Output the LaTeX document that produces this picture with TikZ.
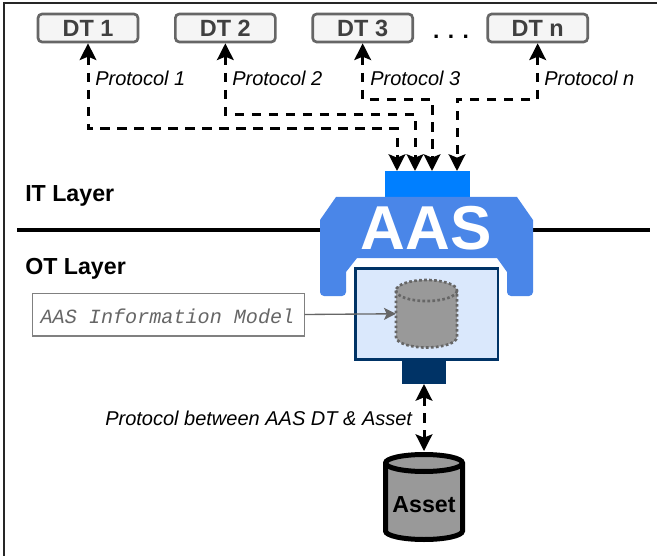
\documentclass[tikz,border=0pt]{standalone}
\usepackage{fontspec}
\setmainfont{Liberation Sans}
\setmonofont{Liberation Mono}
\usepackage{tikz}
\usetikzlibrary{positioning}
\usetikzlibrary{arrows.meta}
\definecolor{aasblue}{HTML}{4A86E8}
\definecolor{itblue}{HTML}{007FFF}
\definecolor{otnavy}{HTML}{003366}
\definecolor{modelfill}{HTML}{DAE8FC}
\tikzstyle{dtbox}=[rectangle, rounded corners=3pt, draw=black!60, fill=black!4,
  line width=2pt, minimum width=75pt, minimum height=21pt, inner sep=0pt,
  text=black!75, font=\fontsize{17.6}{17}\selectfont\bfseries]
\tikzstyle{protolabel}=[anchor=base west, inner sep=0pt,
  font=\fontsize{15}{15}\selectfont\itshape]
\tikzstyle{layerlabel}=[anchor=base west, inner sep=0pt,
  font=\fontsize{17.4}{18}\selectfont\bfseries]
\tikzstyle{arrproto}=[{Stealth[length=12.5pt,width=12.5pt,inset=2.5pt]}-{Stealth[length=12.5pt,width=12.5pt,inset=2.5pt]},
  line width=2.25pt, dash pattern=on 7pt off 5.75pt]
\tikzstyle{plainrect}=[rectangle, inner sep=0pt, outer sep=0pt]
\tikzstyle{drumdotted}=[draw=black!60, fill=black!40, line width=2pt, dash pattern=on 2pt off 1.75pt]
\tikzstyle{drumsolid}=[draw=black, fill=black!40, line width=3.75pt]

\begin{document}
\begin{tikzpicture}[x=0.75pt, y=-0.75pt]
\useasboundingbox (0,0) rectangle (657,556);

\draw[line width=0.8pt, black!85] (657,3) -- (4,3) -- (4,556);

\coordinate (layerleft) at (17,230);
\coordinate (layerright) at (650,230);
\draw[line width=3pt] (layerleft) -- (layerright);

\node[dtbox] (dtone) at (88,28) {DT 1};
\node[dtbox, right=26pt of dtone] (dttwo) {DT 2};
\node[dtbox, right=26pt of dttwo] (dtthree) {DT 3};
\node[dtbox, right=54.25pt of dtthree] (dtn) {DT n};
\node[inner sep=0pt, font=\fontsize{17}{17}\selectfont\bfseries, anchor=base] (dots) at (451,39) {. . .};

\node[plainrect, fill=itblue, minimum width=63.75pt, minimum height=20pt] (aasin) at (427.5,184) {};

% adapter body
\fill[aasblue] (336,197) -- (517,197) -- (533,220)
  [rounded corners=3pt] -- (533,296) -- (507,296) [sharp corners] -- (507,272) -- (497,258)
  -- (357,258) -- (346,272) [rounded corners=3pt] -- (346,296) -- (320,296) [sharp corners]
  -- (320,220) -- cycle;
\node[inner sep=0pt, text=white, font=\fontsize{46.5}{47}\selectfont\bfseries, anchor=base] (aaslabel) at (426,249) {AAS};

\node[plainrect, draw=otnavy, fill=modelfill, line width=2pt, minimum width=107pt, minimum height=68pt] (modelbox) at (426.5,314) {};
\node[plainrect, fill=otnavy, minimum width=33pt, minimum height=18pt, anchor=north] (aasout) at (424,360) {};

% model store
\node[plainrect, minimum width=45.75pt, minimum height=50.6pt] (infodb) at (426.5,313.75) {};
\draw[drumdotted] (infodb.north west) ++(0,10.5) -- ++(0,46.5)
  arc[start angle=180, end angle=360, x radius=22.875pt, y radius=7.875pt]
  -- ++(0,-46.5) arc[start angle=0, end angle=180, x radius=22.875pt, y radius=7.875pt] -- cycle;
\draw[drumdotted, fill=none] (infodb.north west) ++(0,10.5)
  arc[start angle=180, end angle=360, x radius=22.875pt, y radius=7.875pt];

\node[plainrect, draw=black!50, fill=white, line width=1pt, minimum width=204pt, minimum height=32pt,
  text=black!60, text height=12.8pt, text depth=0pt, font=\fontsize{15.1}{15}\selectfont\ttfamily\itshape] (infomodel) at (168.5,314.5) {AAS Information Model\hspace*{1.5pt}};
\draw[-{Stealth[length=9pt,width=9pt,inset=2pt]}, line width=1pt, black!60] (infomodel.east) -- (infodb.west);

\node[protolabel] (protoone) at (95,86) {Protocol 1};
\node[protolabel] (prototwo) at (232,86) {Protocol 2};
\node[protolabel] (protothree) at (370,86) {Protocol 3};
\node[protolabel] (proton) at (544,86) {Protocol n};
\node[protolabel] (protoasset) at (105,425.5) {Protocol between AAS DT \& Asset};

\node[layerlabel] (itlayer) at (25,202) {IT Layer};
\node[layerlabel] (otlayer) at (25,274) {OT Layer};

\coordinate (inone) at (397,171);
\coordinate (intwo) at (415,171);
\coordinate (inthree) at (432,171);
\coordinate (inn) at (457,171);
\draw[arrproto] (dtone.south) -- ++(0,85) -| (inone);
\draw[arrproto] (dttwo.south) -- ++(0,71) -| (intwo);
\draw[arrproto] (dtthree.south) -- ++(0,56) -| (inthree);
\draw[arrproto] (dtn.south) -- ++(0,56) -| (inn);

% asset drum
\node[plainrect, minimum width=57.75pt, minimum height=63.75pt] (asset) at (424,497) {};
\draw[drumsolid] (asset.north west) ++(0,8.5) -- ++(0,68)
  arc[start angle=180, end angle=360, x radius=28.875pt, y radius=6.375pt]
  -- ++(0,-68) arc[start angle=0, end angle=180, x radius=28.875pt, y radius=6.375pt] -- cycle;
\draw[drumsolid, fill=none] (asset.north west) ++(0,8.5)
  arc[start angle=180, end angle=360, x radius=28.875pt, y radius=6.375pt];
\node[inner sep=0pt, font=\fontsize{17.4}{17}\selectfont\bfseries, anchor=base] (assetlabel) at (424,512) {Asset};
\draw[arrproto, shorten >=2.6pt] (aasout.south) -- (asset.north);

\end{tikzpicture}
\end{document}
